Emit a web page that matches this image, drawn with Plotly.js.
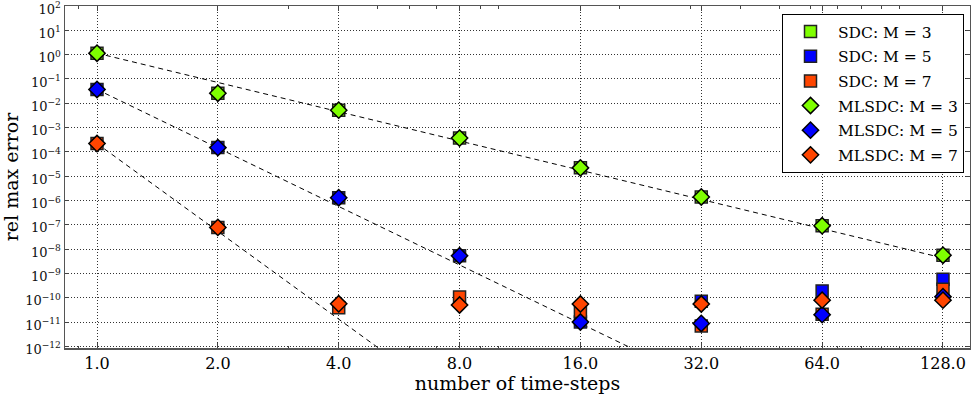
<!DOCTYPE html>
<html>
<head>
<meta charset="utf-8">
<script src="https://cdn.plot.ly/plotly-3.0.1.min.js"></script>
<style>
html, body { margin: 0; padding: 0; background: #fff; overflow: hidden; }
#chart { width: 971px; height: 394px; }
</style>
</head>
<body>
<div id="chart"></div>
<script>
// ---- data ----
const steps = [1, 2, 4, 8, 16, 32, 64, 128];

const sdcM3   = [1.15, 2.6e-2, 5.2e-3, 3.7e-4, 2.2e-5, 1.4e-6, 9.1e-8, 5.6e-9];
const sdcM5   = [3.7e-2, 1.5e-4, 1.3e-6, 5.3e-9, 1.0e-11, 7.2e-11, 1.9e-10, 5.8e-10];
const sdcM7   = [2.2e-4, 7.8e-8, 3.9e-11, 1.07e-10, 2.7e-11, 6.9e-12, 2.1e-11, 2.2e-10];
const mlsdcM3 = [1.15, 2.6e-2, 5.2e-3, 3.7e-4, 2.2e-5, 1.4e-6, 9.1e-8, 5.6e-9];
const mlsdcM5 = [3.7e-2, 1.5e-4, 1.3e-6, 5.3e-9, 1.0e-11, 8.7e-12, 2.0e-11, 1.1e-10];
const mlsdcM7 = [2.2e-4, 7.8e-8, 5.6e-11, 5.0e-11, 5.5e-11, 5.5e-11, 7.9e-11, 7.9e-11];

// dashed reference lines (end points)
const refX3 = [1, 128];  const refY3 = [1.15, 4.3e-9];
const refX5 = [1, 32];   const refY5 = [3.7e-2, 3.4e-14];
const refX7 = [1, 8];    const refY7 = [2.2e-4, 3.2e-15];

const seriesNames = ['SDC: M = 3', 'SDC: M = 5', 'SDC: M = 7',
                     'MLSDC: M = 3', 'MLSDC: M = 5', 'MLSDC: M = 7'];

const xTickVals = [1, 2, 4, 8, 16, 32, 64, 128];
const xTickText = ['1.0', '2.0', '4.0', '8.0', '16.0', '32.0', '64.0', '128.0'];
const xMinorVals = [0.9, 3, 5, 6, 7, 9, 10, 20, 30, 40, 50, 60, 70, 80, 90, 100];

const yTickVals = [1e-12, 1e-11, 1e-10, 1e-9, 1e-8, 1e-7, 1e-6, 1e-5, 1e-4, 1e-3, 1e-2, 1e-1, 1e0, 1e1, 1e2];
const yTickText = ['10<sup>−12</sup>', '10<sup>−11</sup>', '10<sup>−10</sup>', '10<sup>−9</sup>',
                   '10<sup>−8</sup>', '10<sup>−7</sup>', '10<sup>−6</sup>', '10<sup>−5</sup>',
                   '10<sup>−4</sup>', '10<sup>−3</sup>', '10<sup>−2</sup>', '10<sup>−1</sup>',
                   '10<sup>0</sup>', '10<sup>1</sup>', '10<sup>2</sup>'];

// ---- styles ----
const GREEN = '#7fff00', BLUE = '#0000ff', RED = '#ff4500';
const FONT = 'DejaVu Serif, Liberation Serif, serif';

function refLine(x, y) {
  return { x: x, y: y, mode: 'lines', type: 'scatter', showlegend: false, hoverinfo: 'skip',
           line: { color: '#000', width: 1, dash: '5px,4px' } };
}
function pts(y, name, color, symbol, size, lineColor, grp) {
  return { x: steps, y: y, name: name, mode: 'markers', type: 'scatter', legendgroup: grp,
           marker: { symbol: symbol, size: size, color: color, line: { color: lineColor, width: 1.5 } } };
}

const traces = [
  refLine(refX3, refY3), refLine(refX5, refY5), refLine(refX7, refY7),
  pts(sdcM3, seriesNames[0], GREEN, 'square', 12, '#222', 'g1'),
  pts(sdcM5, seriesNames[1], BLUE, 'square', 12, '#222', 'g2'),
  pts(sdcM7, seriesNames[2], RED, 'square', 12, '#222', 'g3'),
  pts(mlsdcM3, seriesNames[3], GREEN, 'diamond', 12.5, '#000', 'g4'),
  pts(mlsdcM5, seriesNames[4], BLUE, 'diamond', 12.5, '#000', 'g5'),
  pts(mlsdcM7, seriesNames[5], RED, 'diamond', 12.5, '#000', 'g6')
];

const L = 65, R = 1, T = 6, B = 46;
const W = 971, H = 394;
const pw = W - L - R, ph = H - T - B;

const layout = {
  width: W, height: H,
  margin: { l: L, r: R, t: T, b: B, pad: 0 },
  paper_bgcolor: '#fff', plot_bgcolor: '#fff',
  font: { family: FONT, color: '#000' },
  showlegend: true,
  xaxis: {
    type: 'log', range: [-0.0797, 2.1745],
    tickmode: 'array', tickvals: xTickVals, ticktext: xTickText,
    tickfont: { size: 16, family: FONT, color: '#000' },
    ticks: 'inside', ticklen: 5, tickwidth: 1, tickcolor: '#444',
    showgrid: true, gridcolor: '#333', griddash: '1px,2px', gridwidth: 1,
    showline: true, linecolor: '#555', linewidth: 1.5, mirror: 'ticks',
    zeroline: false, ticklabeloverflow: 'allow',
    minor: { tickmode: 'array', tickvals: xMinorVals, ticks: 'inside', ticklen: 2.5, tickcolor: '#444', showgrid: false },
    title: { text: 'number of time-steps', font: { size: 19, family: FONT, color: '#000' }, standoff: 4 }
  },
  yaxis: {
    type: 'log', range: [-12.07, 2.003],
    tickmode: 'array', tickvals: yTickVals, ticktext: yTickText,
    tickfont: { size: 13, family: FONT, color: '#111' },
    ticks: 'inside', ticklen: 4, tickwidth: 1, tickcolor: '#444',
    showgrid: true, gridcolor: '#333', griddash: '1px,2px', gridwidth: 1,
    showline: true, linecolor: '#555', linewidth: 1.5, mirror: 'ticks',
    zeroline: false, ticklabeloverflow: 'allow', ticklabelshift: 3,
    title: { text: 'rel max error', font: { size: 19, family: FONT, color: '#000' }, standoff: 8 }
  },
  legend: {
    x: (964 - L) / pw, xanchor: 'right',
    y: 1 - (14 - T) / ph, yanchor: 'top',
    bgcolor: '#fff', bordercolor: '#000', borderwidth: 1,
    font: { size: 15.5, family: FONT, color: '#000' },
    itemwidth: 45, traceorder: 'grouped', tracegroupgap: 1.5
  }
};

Plotly.newPlot('chart', traces, layout, { displayModeBar: false, staticPlot: true });
</script>
</body>
</html>
